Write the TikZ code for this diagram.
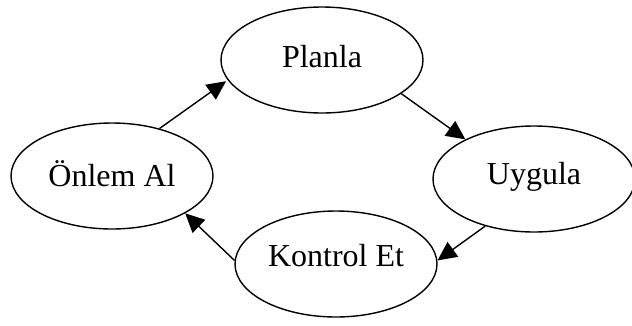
\documentclass[tikz,border=0pt]{standalone}
\usepackage{fontspec}
\setmainfont{Liberation Serif}
\usetikzlibrary{arrows.meta,shapes.geometric}
\tikzset{
  stage/.style={ellipse, draw, line width=1.4pt, minimum width=202pt,
    minimum height=106pt, inner sep=0pt, text height=22pt,
    font=\fontsize{32}{36}\selectfont},
  flow/.style={line width=1.4pt, -{Triangle[length=19pt,width=18pt]}}
}
\begin{document}
\begin{tikzpicture}[x=1pt,y=-1pt]
  \useasboundingbox (0,0) rectangle (632,325);
  % the four stages of the cycle; text depth lifts each label a little
  \node[stage, text depth=8pt] (planla) at (322,60) {Planla};
  \node[stage, text depth=12pt] (uygula) at (534,179) {Uygula};
  \node[stage, text depth=18pt] (kontrol) at (336,264) {Kontrol Et};
  \node[stage, text depth=2pt] (onlem) at (112,176) {Önlem Al};
  % arrows running clockwise round the cycle
  \draw[flow] (planla.-23) -- (uygula.150);
  \draw[flow] (uygula.-136) -- (kontrol.2);
  \draw[flow] (kontrol.178) -- (onlem.-27);
  \draw[flow, shorten >=2pt] (onlem.45) -- (planla.192);
\end{tikzpicture}
\end{document}
